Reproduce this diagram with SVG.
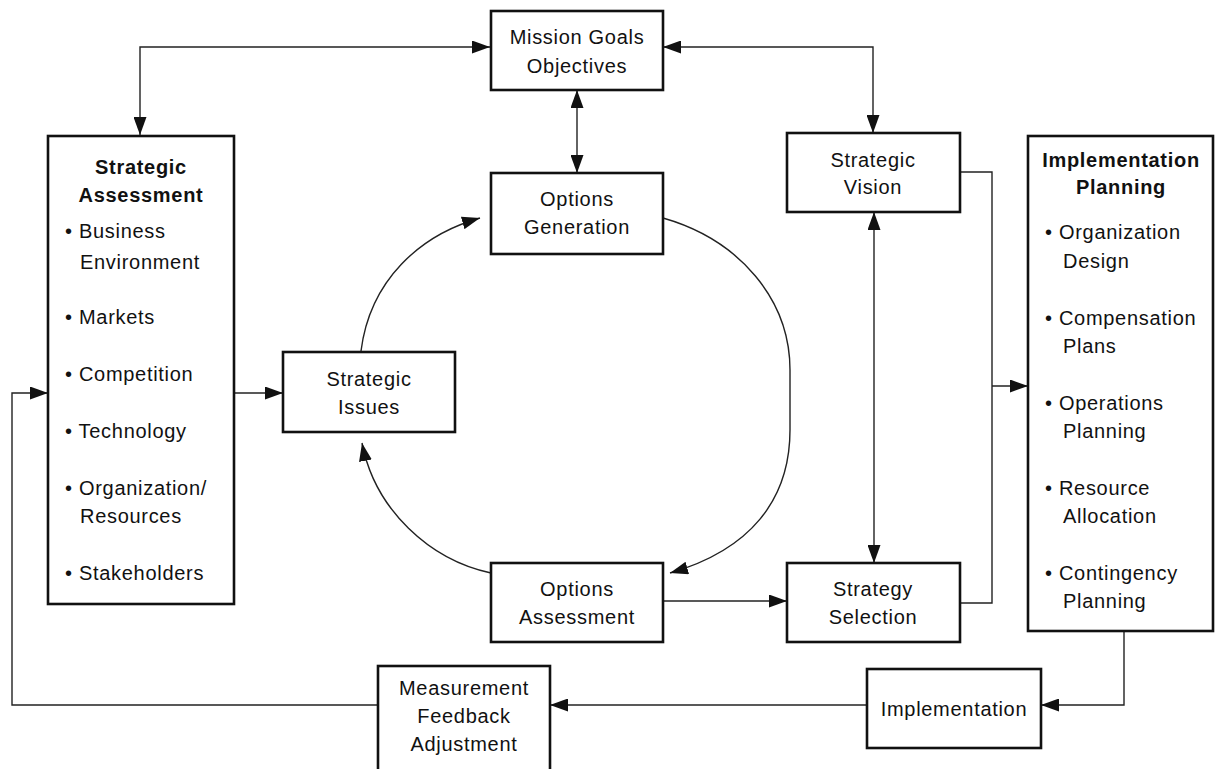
<svg xmlns="http://www.w3.org/2000/svg" width="1215" height="769" viewBox="0 0 1215 769">
<style>
.box{fill:#fff;stroke:#111;stroke-width:2.6}
.t{font-family:"Liberation Sans",Arial,sans-serif;font-size:20px;letter-spacing:0.7px;fill:#111}
.c{text-anchor:middle}
.b{font-weight:bold}
.con{fill:none;stroke:#222;stroke-width:1.4}
</style>
<defs>
<marker id="ah" markerUnits="userSpaceOnUse" markerWidth="19" markerHeight="13" refX="18" refY="6.5" orient="auto-start-reverse">
<path d="M0,0 L18,6.5 L0,13 z" fill="#111"/>
</marker>
</defs>
<rect width="1215" height="769" fill="#fff"/>
<g id="connectors">
<path class="con" d="M490,47 H140 V135" marker-start="url(#ah)" marker-end="url(#ah)"/>
<path class="con" d="M663,47 H873 V133" marker-start="url(#ah)" marker-end="url(#ah)"/>
<path class="con" d="M577,90 V173" marker-start="url(#ah)" marker-end="url(#ah)"/>
<path class="con" d="M874,212 V563" marker-start="url(#ah)" marker-end="url(#ah)"/>
<path class="con" d="M234,393 H283" marker-end="url(#ah)"/>
<path class="con" d="M663,601 H787" marker-end="url(#ah)"/>
<path class="con" d="M960,172 H992 V603 H960"/>
<path class="con" d="M992,386 H1028" marker-end="url(#ah)"/>
<path class="con" d="M1124,631 V705 H1041" marker-end="url(#ah)"/>
<path class="con" d="M867,705 H550" marker-end="url(#ah)"/>
<path class="con" d="M378,705 H12 V393 H48" marker-end="url(#ah)"/>
<path class="con" d="M361,351 C370,280 420,235 480,218" marker-end="url(#ah)"/>
<path class="con" d="M663,218 C740,240 790,300 790,370 L790,430 C790,500 750,550 670,573" marker-end="url(#ah)"/>
<path class="con" d="M491,573 C430,560 375,510 362,443" marker-end="url(#ah)"/>
</g>
<g id="mission">
<rect class="box" x="491" y="11" width="172" height="79"/>
<text class="t c" x="577" y="44">Mission Goals</text>
<text class="t c" x="577" y="73">Objectives</text>
</g>
<g id="strategic-assessment">
<rect class="box" x="48" y="136" width="186" height="468"/>
<text class="t c b" x="141" y="174">Strategic</text>
<text class="t c b" x="141" y="202">Assessment</text>
<text class="t" x="65" y="238">• Business</text>
<text class="t" x="80" y="269">Environment</text>
<text class="t" x="65" y="324">• Markets</text>
<text class="t" x="65" y="381">• Competition</text>
<text class="t" x="65" y="438">• Technology</text>
<text class="t" x="65" y="495">• Organization/</text>
<text class="t" x="80" y="523">Resources</text>
<text class="t" x="65" y="580">• Stakeholders</text>
</g>
<g id="options-generation">
<rect class="box" x="491" y="173" width="172" height="81"/>
<text class="t c" x="577" y="206">Options</text>
<text class="t c" x="577" y="234">Generation</text>
</g>
<g id="strategic-vision">
<rect class="box" x="787" y="133" width="173" height="79"/>
<text class="t c" x="873" y="167">Strategic</text>
<text class="t c" x="873" y="194">Vision</text>
</g>
<g id="implementation-planning">
<rect class="box" x="1028" y="136" width="185" height="495"/>
<text class="t c b" x="1121" y="167">Implementation</text>
<text class="t c b" x="1121" y="194">Planning</text>
<text class="t" x="1045" y="239">• Organization</text>
<text class="t" x="1063" y="268">Design</text>
<text class="t" x="1045" y="325">• Compensation</text>
<text class="t" x="1063" y="353">Plans</text>
<text class="t" x="1045" y="410">• Operations</text>
<text class="t" x="1063" y="438">Planning</text>
<text class="t" x="1045" y="495">• Resource</text>
<text class="t" x="1063" y="523">Allocation</text>
<text class="t" x="1045" y="580">• Contingency</text>
<text class="t" x="1063" y="608">Planning</text>
</g>
<g id="strategic-issues">
<rect class="box" x="283" y="352" width="172" height="80"/>
<text class="t c" x="369" y="386">Strategic</text>
<text class="t c" x="369" y="414">Issues</text>
</g>
<g id="options-assessment">
<rect class="box" x="491" y="563" width="172" height="79"/>
<text class="t c" x="577" y="596">Options</text>
<text class="t c" x="577" y="624">Assessment</text>
</g>
<g id="strategy-selection">
<rect class="box" x="787" y="563" width="173" height="79"/>
<text class="t c" x="873" y="596">Strategy</text>
<text class="t c" x="873" y="624">Selection</text>
</g>
<g id="implementation">
<rect class="box" x="867" y="669" width="174" height="79"/>
<text class="t c" x="954" y="716">Implementation</text>
</g>
<g id="measurement">
<rect class="box" x="378" y="666" width="172" height="112"/>
<text class="t c" x="464" y="695">Measurement</text>
<text class="t c" x="464" y="723">Feedback</text>
<text class="t c" x="464" y="751">Adjustment</text>
</g>
</svg>
